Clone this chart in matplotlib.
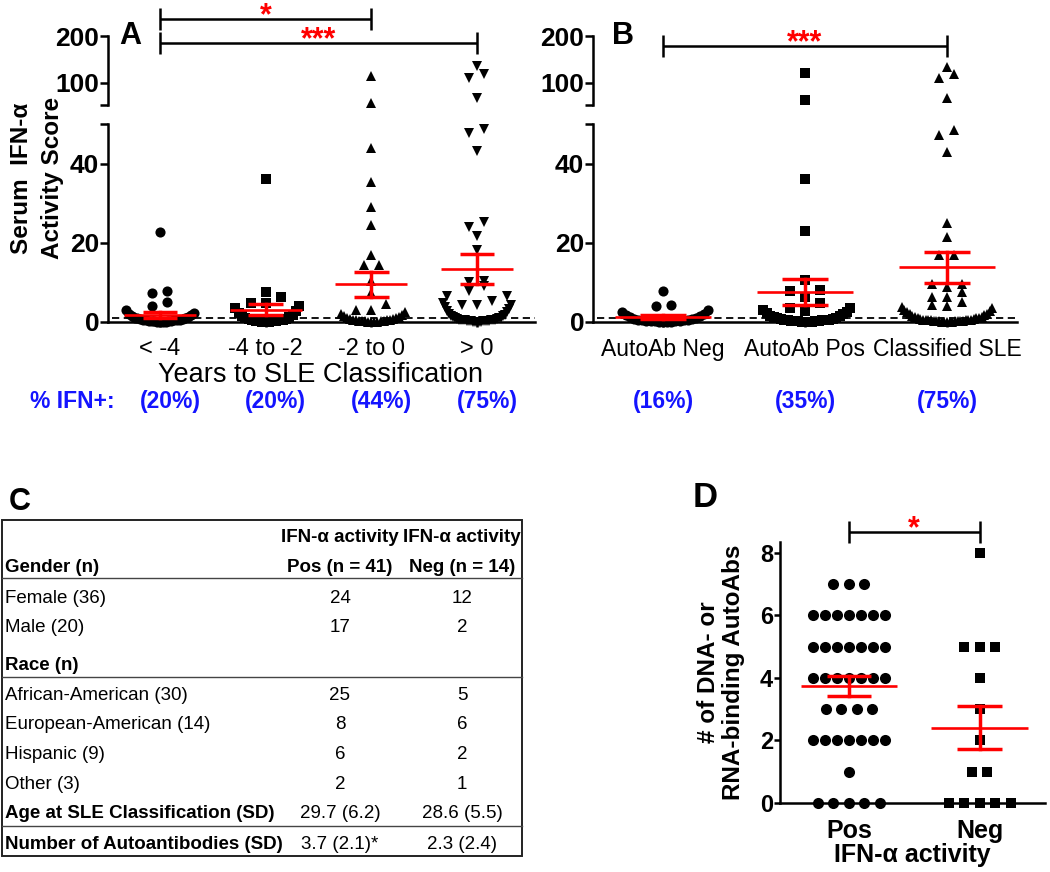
import numpy as np
import matplotlib
matplotlib.use("Agg")
import matplotlib.pyplot as plt
from matplotlib import font_manager
from matplotlib.lines import Line2D
from matplotlib.patches import Rectangle
from matplotlib.transforms import blended_transform_factory

plt.rcParams["font.family"] = ["Liberation Sans", "DejaVu Sans"]

W, H = 1050, 872
RED = "#ff0000"
BLUE = "#1414ff"

# ---------------- panel A: IFN-alpha score by years to classification
years_labels = ["< -4", "-4 to -2", "-2 to 0", "> 0"]
years_pct = ["(20%)", "(20%)", "(44%)", "(75%)"]
years_mean = [1.6, 3.0, 9.4, 13.3]
years_sem = [0.8, 1.45, 3.15, 3.9]
# points that stand apart, read one by one
lt4_sparse = [22.7, 7.6, 7.3, 4.9, 3.9]
m4m2_sparse = [36.0, 7.4, 6.3, 4.8, 4.8]
m2to0_sparse = [115, 57.4, 43.9, 35.3, 28.9, 24.4, 16.8, 14.2, 14.2, 10.2,
                7.2, 4.5, 3.0, 3.0]
gt0_sparse = [136, 119, 110, 68, 48.7, 47.7, 43.1, 25.2, 23.9, 21.6, 18.0,
              10.2, 10.0, 8.9, 7.7, 6.5, 6.5, 5.2, 4.3, 4.3]
# points packed into the curved band just above zero
lt4_dense = [0, 0, 0, 0, 0.1, 0.1, 0.1, 0.2, 0.2, 0.3, 0.3, 0.4, 0.4, 0.5,
             0.6, 0.7, 0.8, 0.9, 1.0, 1.2, 1.4, 1.7, 2.0, 2.2, 2.8]
m4m2_dense = [0, 0, 0, 0.1, 0.1, 0.2, 0.2, 0.3, 0.4, 0.5, 0.6, 0.7, 0.9,
              1.1, 1.4, 1.7, 2.2, 2.7, 3.3, 3.9]
m2to0_dense = [0, 0, 0, 0, 0.1, 0.1, 0.1, 0.2, 0.2, 0.3, 0.3, 0.4, 0.5, 0.6,
               0.7, 0.8, 1.0, 1.2, 1.4, 1.7, 2.0, 2.4]
gt0_dense = [0, 0, 0, 0, 0, 0.1, 0.1, 0.1, 0.1, 0.2, 0.2, 0.2, 0.3, 0.3,
             0.3, 0.4, 0.4, 0.5, 0.5, 0.6, 0.7, 0.8, 0.9, 1.0, 1.1, 1.3, 1.5,
             1.7, 2.0, 2.3, 2.7, 3.1, 3.6, 4.1, 4.6]

# ---------------- panel B: by autoantibody status
status_labels = ["AutoAb Neg", "AutoAb Pos", "Classified SLE"]
status_pct = ["(16%)", "(35%)", "(75%)"]
status_mean = [1.1, 7.4, 13.7]
status_sem = [0.5, 3.3, 4.0]
neg_sparse = [7.6, 4.1, 3.9]
pos_sparse = [121.9, 63.8, 36.2, 22.8, 10.4, 7.9, 7.6, 6.2, 4.8, 3.3, 2.6]
sle_sparse = [134.7, 119, 110, 68, 48.5, 47.2, 43.0, 24.9, 21.4, 16.8, 16.8,
              9.6, 9.6, 8.7, 7.4, 6.2, 6.2, 4.9, 4.1, 3.8]
neg_dense = [0, 0, 0, 0, 0.1, 0.1, 0.1, 0.2, 0.2, 0.3, 0.3, 0.4, 0.5, 0.6,
             0.7, 0.9, 1.1, 1.3, 1.6, 2.0, 2.5, 3.0]
pos_dense = [0, 0, 0, 0, 0.1, 0.1, 0.1, 0.2, 0.2, 0.3, 0.3, 0.4, 0.4, 0.5,
             0.6, 0.7, 0.8, 1.0, 1.1, 1.3, 1.5, 1.8, 2.1, 2.5, 2.9, 3.3]
sle_dense = [0, 0, 0, 0, 0, 0.1, 0.1, 0.1, 0.1, 0.2, 0.2, 0.2, 0.3, 0.3,
             0.3, 0.4, 0.4, 0.5, 0.5, 0.6, 0.7, 0.8, 0.9, 1.0, 1.1, 1.2, 1.4,
             1.6, 1.8, 2.0, 2.3, 2.6, 2.9, 3.3, 3.6]
threshold = 1.0

# ---------------- panel C: table
row_names = ["Gender (n)", "Female (36)", "Male (20)", "Race (n)",
             "African-American (30)", "European-American (14)", "Hispanic (9)",
             "Other (3)", "Age at SLE Classification (SD)",
             "Number of Autoantibodies (SD)"]
row_bold = [True, False, False, True, False, False, False, False, True, True]
col_pos = ["", "24", "17", "", "25", "8", "6", "2", "29.7 (6.2)", "3.7 (2.1)*"]
col_neg = ["", "12", "2", "", "5", "6", "2", "1", "28.6 (5.5)", "2.3 (2.4)"]
col_heads = [("IFN-\u03b1 activity", "Pos (n = 41)"),
             ("IFN-\u03b1 activity", "Neg (n = 14)")]

# ---------------- panel D: number of DNA/RNA binding autoantibodies
d_labels = ["Pos", "Neg"]
d_pos_values = [0, 1, 2, 3, 4, 5, 6, 7]
d_pos_counts = [5, 1, 7, 4, 7, 7, 7, 3]
d_neg_values = [0, 1, 2, 3, 4, 5, 8]
d_neg_counts = [5, 2, 1, 1, 1, 3, 1]
d_mean = [3.74, 2.41]
d_sem = [0.33, 0.69]

installed = {f.name for f in font_manager.fontManager.ttflist}
if "Liberation Sans Narrow" in installed:
    TABLE_FONT, TABLE_SIZE = "Liberation Sans Narrow", 15.5
else:
    TABLE_FONT, TABLE_SIZE = "Liberation Sans", 13.5

fig = plt.figure(figsize=(W / 100, H / 100), dpi=100)


def fbox(left, top, right, bottom):
    return [left / W, 1 - bottom / H, (right - left) / W, (bottom - top) / H]


def fy(py):
    return 1 - py / H


def label(px, py, s, size, **kw):
    # py is the vertical middle of the capitals
    base = py + 0.358 * size * 100 / 72
    return fig.text(px / W, fy(base), s, fontsize=size, va="baseline", **kw)


def smile_offsets(vals, half):
    # sorted values spread alternately left/right, further out as they rise
    order = np.argsort(vals, kind="stable")
    m = max(len(vals) // 2, 1)
    off = np.zeros(len(vals))
    for rank, idx in enumerate(order):
        side = 1 if rank % 2 else -1
        off[idx] = side * ((rank + 1) // 2) / m * half
    return off


def row_offsets(vals, to_px, tol, gap, span):
    vals = np.asarray(vals, float)
    order = np.argsort(vals, kind="stable")
    rows = []
    for idx in order:
        if rows and to_px(vals[idx]) - to_px(vals[rows[-1][0]]) < tol:
            rows[-1].append(idx)
        else:
            rows.append([idx])
    off = np.zeros(len(vals))
    for row in rows:
        k = len(row)
        g = gap if k < 2 else min(gap, span / (k - 1))
        pos = (np.arange(k) - (k - 1) / 2) * g
        pos = pos[np.argsort(np.abs(pos), kind="stable")]
        off[row] = pos
    return off


LO_TOP, LO_BOT, HI_TOP, HI_BOT = 124, 321.5, 36, 105
LO_LIM, HI_LIM = (0, 50), (53, 200)
lo_scale = (LO_BOT - LO_TOP) / (LO_LIM[1] - LO_LIM[0])
hi_scale = (HI_BOT - HI_TOP) / (HI_LIM[1] - HI_LIM[0])
MS = {"o": 7.3, "s": 6.6, "^": 7.3, "v": 7.3}


def y_px(v):
    if v <= LO_LIM[1]:
        return v * lo_scale
    return (LO_BOT - HI_BOT) + (v - HI_LIM[0]) * hi_scale


def mean_sem(ax, x, m, s, half, cap):
    ax.plot([x - half, x + half], [m, m], color=RED, lw=1.9, zorder=5,
            solid_capstyle="butt")
    for y in (m - s, m + s):
        ax.plot([x - cap, x + cap], [y, y], color=RED, lw=2.5, zorder=5,
                solid_capstyle="butt")
    ax.plot([x, x], [m - s, m + s], color=RED, lw=2.5, zorder=5)


def broken_panel(left, right, xlim, labels, label_size, sparse, dense,
                 markers, means, sems):
    ax_hi = fig.add_axes(fbox(left, HI_TOP, right, HI_BOT))
    ax_lo = fig.add_axes(fbox(left, LO_TOP, right, LO_BOT))
    xpx = (right - left) / (xlim[1] - xlim[0])
    for ax in (ax_hi, ax_lo):
        ax.set_xlim(xlim)
        ax.patch.set_visible(False)
        ax.spines["top"].set_visible(False)
        ax.spines["right"].set_visible(False)
        ax.spines["left"].set_linewidth(1.8)
        ax.tick_params(axis="y", width=1.8, length=5.8, pad=0.5)
    ax_hi.spines["bottom"].set_visible(False)
    ax_hi.set_ylim(HI_LIM)
    ax_hi.set_yticks([53, 100, 200], ["", "100", "200"], fontsize=19,
                     fontweight="bold")
    ax_hi.set_xticks([])
    ax_lo.spines["bottom"].set_linewidth(1.8)
    ax_lo.set_ylim(LO_LIM)
    ax_lo.set_yticks([0, 20, 40, 50], ["0", "20", "40", ""], fontsize=19,
                     fontweight="bold")
    ax_lo.set_xticks(range(len(labels)), labels, fontsize=label_size)
    ax_lo.tick_params(axis="x", width=1.8, length=3.5, pad=8.5)
    ax_lo.plot([xlim[0] + 4 / xpx, xlim[1]], [threshold, threshold],
               color="black", lw=1.3, ls=(0, (4, 2.5)), zorder=1, clip_on=False)
    for i, (sp, dn, mk) in enumerate(zip(sparse, dense, markers)):
        vals = np.array(sp + dn, float)
        off = np.concatenate([row_offsets(sp, y_px, 9, 15, 200) / xpx,
                              smile_offsets(dn, 0.32)])
        xs = i + off
        lo = vals <= LO_LIM[1]
        ax_lo.plot(xs[lo], vals[lo], ls="none", marker=mk, ms=MS[mk],
                   color="black", mew=0, clip_on=False, zorder=3)
        ax_hi.plot(xs[~lo], vals[~lo], ls="none", marker=mk, ms=MS[mk],
                   color="black", mew=0, clip_on=False, zorder=3)
        mean_sem(ax_lo, i, means[i], sems[i], 0.34, 0.165)
    return ax_hi, ax_lo, xpx


def bracket(ax, x1, x2, ypx, stars):
    tr = blended_transform_factory(ax.transData, fig.transFigure)
    ax.plot([x1, x2], [fy(ypx)] * 2, color="black", lw=1.8, transform=tr,
            clip_on=False, solid_capstyle="butt")
    for x in (x1, x2):
        ax.plot([x, x], [fy(ypx - 11), fy(ypx + 11)], color="black", lw=1.8,
                transform=tr, clip_on=False, solid_capstyle="butt")
    ax.text((x1 + x2) / 2, fy(ypx + 5), stars, transform=tr, ha="center",
            va="baseline", color=RED, fontsize=22, fontweight="bold")


# ---- panel A
a_xlim = (-0.492, 3.549)
a_hi, a_lo, a_xpx = broken_panel(
    108, 535, a_xlim, years_labels, 17,
    [lt4_sparse, m4m2_sparse, m2to0_sparse, gt0_sparse],
    [lt4_dense, m4m2_dense, m2to0_dense, gt0_dense],
    ["o", "s", "^", "v"], years_mean, years_sem)
bracket(a_hi, 0, 2, 19, "*")
bracket(a_hi, 0, 3, 43, "***")
label(130, 33, "A", 22, ha="center", fontweight="bold")
fig.text(37 / W, fy(178), "Serum  IFN-\u03b1\nActivity Score", rotation=90,
         ha="center", va="center", ma="center", fontsize=17.5,
         fontweight="bold", linespacing=1.4)
label(321, 372, "Years to SLE Classification", 19.5, ha="center")
label(72, 400, "% IFN+:", 16.5, ha="center", color=BLUE, fontweight="bold")
for i, s in enumerate(years_pct):
    px = 108 + (i - a_xlim[0]) * a_xpx + 10
    label(px, 400, s, 16.5, ha="center", color=BLUE, fontweight="bold")

# ---- panel B
b_xlim = (-0.493, 2.493)
b_hi, b_lo, b_xpx = broken_panel(
    593, 1017, b_xlim, status_labels, 16.5,
    [neg_sparse, pos_sparse, sle_sparse],
    [neg_dense, pos_dense, sle_dense],
    ["o", "s", "^"], status_mean, status_sem)
bracket(b_hi, 0, 2, 46, "***")
label(623, 33, "B", 22, ha="center", fontweight="bold")
for i, s in enumerate(status_pct):
    px = 593 + (i - b_xlim[0]) * b_xpx
    label(px, 400, s, 16.5, ha="center", color=BLUE, fontweight="bold")

# ---- panel C
label(20, 499, "C", 22, ha="center", fontweight="bold")
t_left, t_right, t_top, t_bot = 2, 522, 520, 856
fig.add_artist(Rectangle((t_left / W, fy(t_bot)), (t_right - t_left) / W,
                         (t_bot - t_top) / H, transform=fig.transFigure,
                         fill=False, lw=1.4, ec="#222222"))
for py in (578, 677, 826):
    fig.add_artist(Line2D([t_left / W, t_right / W], [fy(py)] * 2,
                          color="#444444", lw=1.0))
row_y = [565, 596, 625, 663, 693, 722, 752, 782, 811, 842]
col_x = [340, 462]
for (h1, h2), cx in zip(col_heads, col_x):
    label(cx, 535, h1, TABLE_SIZE, ha="center", family=TABLE_FONT,
          fontweight="bold")
    label(cx, 565, h2, TABLE_SIZE, ha="center", family=TABLE_FONT,
          fontweight="bold")
for name, bold, vp, vn, py in zip(row_names, row_bold, col_pos, col_neg, row_y):
    label(5, py, name, TABLE_SIZE, ha="left", family=TABLE_FONT,
          fontweight="bold" if bold else "normal")
    label(col_x[0], py, vp, TABLE_SIZE, ha="center", family=TABLE_FONT)
    label(col_x[1], py, vn, TABLE_SIZE, ha="center", family=TABLE_FONT)

# ---- panel D
d_left, d_right, d_top, d_bot = 780, 1045, 542, 803
d_xlim, d_ylim = (-0.527, 1.5), (0, 8.35)
ax_d = fig.add_axes(fbox(d_left, d_top, d_right, d_bot))
ax_d.set_xlim(d_xlim)
ax_d.set_ylim(d_ylim)
ax_d.patch.set_visible(False)
ax_d.spines["top"].set_visible(False)
ax_d.spines["right"].set_visible(False)
for side in ("left", "bottom"):
    ax_d.spines[side].set_linewidth(1.8)
ax_d.set_yticks([0, 2, 4, 6, 8], ["0", "2", "4", "6", "8"], fontsize=17,
                fontweight="bold")
ax_d.set_xticks([0, 1], d_labels, fontsize=18, fontweight="bold")
ax_d.tick_params(axis="y", width=1.8, length=4.5, pad=0.5)
ax_d.tick_params(axis="x", width=1.8, length=3, pad=8.2)
d_xpx = (d_right - d_left) / (d_xlim[1] - d_xlim[0])
d_ypx = (d_bot - d_top) / (d_ylim[1] - d_ylim[0])
for i, (v, c, mk, ms) in enumerate([(d_pos_values, d_pos_counts, "o", 8.0),
                                    (d_neg_values, d_neg_counts, "s", 7.4)]):
    vals = np.repeat(v, c).astype(float)
    off = row_offsets(vals, lambda t: t * d_ypx, 1, 15.5, 72) / d_xpx
    ax_d.plot(i + off, vals, ls="none", marker=mk, ms=ms, color="black",
              mew=0, clip_on=False, zorder=3)
    mean_sem(ax_d, i, d_mean[i], d_sem[i], 0.37, 0.17)
bracket(ax_d, 0, 1, 532, "*")
label(705, 495, "D", 25, ha="center", fontweight="bold")
fig.text(721 / W, fy(672), "# of DNA- or\nRNA-binding AutoAbs", rotation=90,
         ha="center", va="center", ma="center", fontsize=17.5,
         fontweight="bold", linespacing=1.15)
label(912, 853, "IFN-\u03b1 activity", 18, ha="center", fontweight="bold")

fig.savefig("out.png", dpi=100)
